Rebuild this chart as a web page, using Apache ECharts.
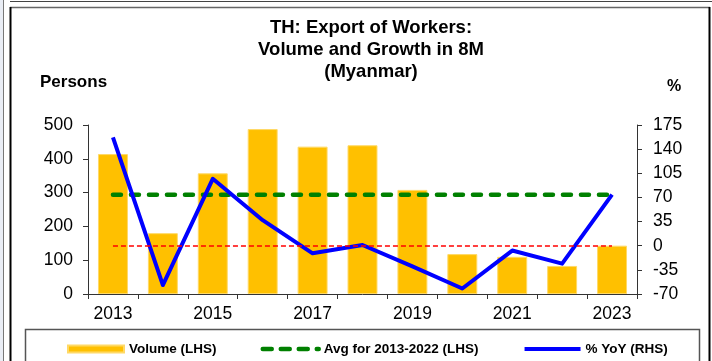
<!DOCTYPE html>
<html>
<head>
<meta charset="utf-8">
<script src="https://cdn.jsdelivr.net/npm/echarts@6/dist/echarts.min.js"></script>
<style>
  html, body { margin: 0; padding: 0; background: #fff; }
  #chart { width: 712px; height: 361px; }
</style>
</head>
<body>
<div id="chart"></div>
<script>
// Myanmar workers exported by Thailand, first eight months of each year
const years = ['2013','2014','2015','2016','2017','2018','2019','2020','2021','2022','2023'];
const volume = [414, 180, 357, 488, 436, 440, 308, 118, 110, 83, 143];
const yoy = [157, -57, 97, 37, -11, 1, -30, -62, -7, -26, 74];
const avg2013to2022 = 293.4;
const leftTicks = [0, 100, 200, 300, 400, 500];
const rightTicks = [-70, -35, 0, 35, 70, 105, 140, 175];

const FONT = '"Liberation Sans", Arial, sans-serif';
const chart = echarts.init(document.getElementById('chart'), null, { renderer: 'canvas' });

const option = {
  backgroundColor: '#ffffff',
  animation: false,
  textStyle: { fontFamily: FONT },
  title: {
    text: 'TH: Export of Workers:\nVolume and Growth in 8M\n(Myanmar)',
    left: 366, top: 12, textAlign: 'center',
    textStyle: { fontFamily: FONT, fontSize: 18.5, fontWeight: 'bold', color: '#000', lineHeight: 22 }
  },
  legend: {
    left: 62, top: 337,
    itemGap: 44, itemWidth: 56, itemHeight: 7,
    textStyle: { fontFamily: FONT, fontSize: 13.5, fontWeight: 'bold', color: '#000' },
    data: [
      { name: 'Volume (LHS)', icon: 'rect' },
      { name: 'Avg for 2013-2022 (LHS)', itemStyle: { opacity: 0 }, lineStyle: { width: 4.5, type: [9, 9], cap: 'round' } },
      { name: '% YoY (RHS)', itemStyle: { opacity: 0 }, lineStyle: { width: 4 } }
    ]
  },
  grid: { left: 88, right: 75, top: 125, bottom: 67 },
  xAxis: {
    type: 'category',
    data: years,
    boundaryGap: true,
    axisLine: { lineStyle: { color: '#333', width: 1 } },
    axisTick: { show: true, length: 5, interval: 0, lineStyle: { color: '#333' } },
    axisLabel: { interval: 1, fontSize: 17.5, color: '#000', margin: 11, fontFamily: FONT }
  },
  yAxis: [
    {
      type: 'value', min: leftTicks[0], max: leftTicks[leftTicks.length - 1], interval: 100,
      name: 'Persons', nameLocation: 'end', nameGap: 0,
      nameTextStyle: { fontFamily: FONT, fontSize: 17, fontWeight: 'bold', color: '#000', align: 'left', padding: [0, 0, 34, -48] },
      axisLine: { show: true, lineStyle: { color: '#333' } },
      axisTick: { show: true, length: 5, lineStyle: { color: '#333' } },
      axisLabel: { fontSize: 17.5, color: '#000', margin: 15, fontFamily: FONT },
      splitLine: { show: false }
    },
    {
      type: 'value', min: rightTicks[0], max: rightTicks[rightTicks.length - 1], interval: 35,
      name: '%', nameLocation: 'end', nameGap: 0,
      nameTextStyle: { fontFamily: FONT, fontSize: 16, fontWeight: 'bold', color: '#000', align: 'left', padding: [0, 0, 30, 30] },
      axisLine: { show: true, lineStyle: { color: '#333' } },
      axisTick: { show: true, length: 5, lineStyle: { color: '#333' } },
      axisLabel: { fontSize: 17.5, color: '#000', margin: 16, fontFamily: FONT },
      splitLine: { show: false }
    }
  ],
  series: [
    {
      name: 'Volume (LHS)', type: 'bar', yAxisIndex: 0,
      data: volume, barWidth: '60%',
      itemStyle: { color: '#FFC000', borderColor: '#FFD966', borderWidth: 1 },
      z: 1
    },
    {
      name: 'Avg for 2013-2022 (LHS)', type: 'line', yAxisIndex: 0,
      data: [[years[0], avg2013to2022], [years[years.length - 1], avg2013to2022]],
      symbol: 'none',
      lineStyle: { color: '#008000', width: 4.5, type: [8, 10], cap: 'round' },
      itemStyle: { color: '#008000' },
      z: 3
    },
    {
      name: '% YoY (RHS)', type: 'line', yAxisIndex: 1,
      data: yoy, symbol: 'none',
      lineStyle: { color: '#0000FF', width: 4, join: 'round' },
      itemStyle: { color: '#0000FF' },
      markLine: {
        silent: true, symbol: 'none', label: { show: false },
        lineStyle: { color: '#FF0000', width: 1.5, type: [5, 3] },
        data: [[{ coord: [years[0], 0] }, { coord: [years[years.length - 1], 0] }]]
      },
      z: 4
    }
  ],
  graphic: [
    // neighbouring panel edges
    { type: 'rect', shape: { x: 0, y: 0, width: 3, height: 361 }, style: { fill: '#e9edf5' }, silent: true },
    { type: 'line', shape: { x1: 3.5, y1: 0, x2: 3.5, y2: 361 }, style: { stroke: '#777', lineWidth: 1 }, silent: true },
    { type: 'line', shape: { x1: 10, y1: 1.5, x2: 712, y2: 1.5 }, style: { stroke: '#444', lineWidth: 1 }, silent: true },
    // chart frame
    { type: 'line', shape: { x1: 10, y1: 7.5, x2: 710, y2: 7.5 }, style: { stroke: '#666', lineWidth: 1.5 }, silent: true },
    { type: 'line', shape: { x1: 10.5, y1: 7, x2: 10.5, y2: 361 }, style: { stroke: '#000', lineWidth: 2 }, silent: true },
    { type: 'line', shape: { x1: 709.5, y1: 7, x2: 709.5, y2: 361 }, style: { stroke: '#000', lineWidth: 2 }, silent: true },
    // legend box
    { type: 'rect', shape: { x: 25.5, y: 329.5, width: 674, height: 40 }, style: { fill: 'none', stroke: '#555', lineWidth: 1.5 }, silent: true }
  ]
};

chart.setOption(option);
</script>
</body>
</html>
